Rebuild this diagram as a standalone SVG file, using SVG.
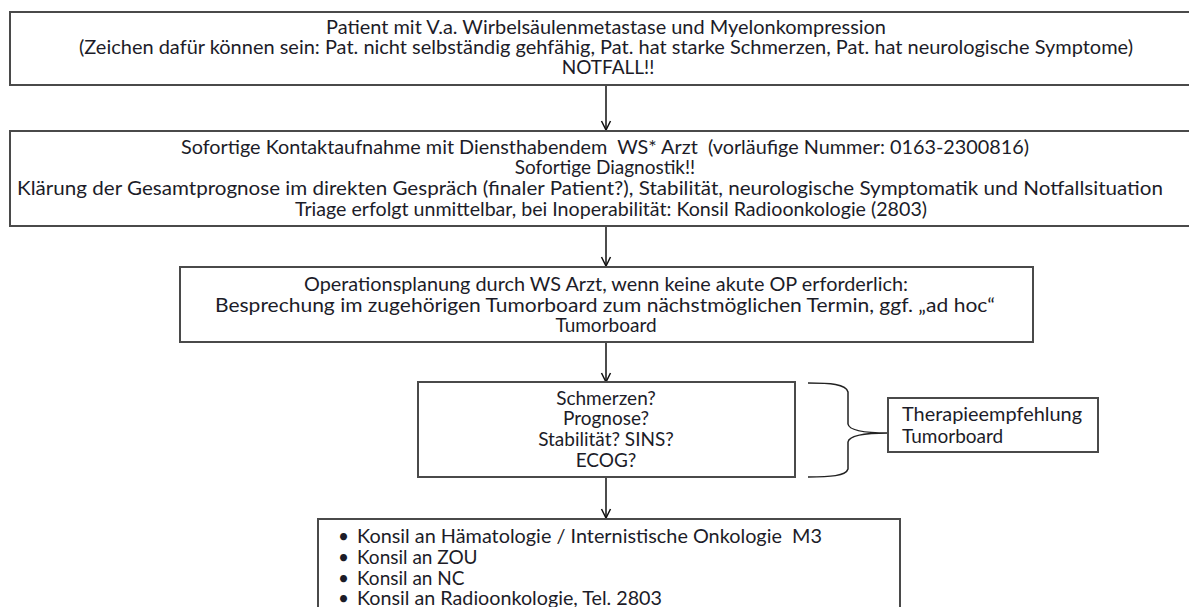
<svg xmlns="http://www.w3.org/2000/svg" width="1189" height="607" viewBox="0 0 1189 607">
  <style>
    .box { fill: #ffffff; stroke: #4a4a4a; stroke-width: 2; }
    .t { font-family: Lato, "Open Sans", "Liberation Sans", sans-serif; font-size: 19px; fill: #1c1c28; }
    .c { text-anchor: middle; }
    .link { fill: none; stroke: #111111; stroke-width: 1.5; }
    .brace { fill: none; stroke: #222222; stroke-width: 1.5; }
  </style>
  <defs>
    <!-- open V arrowhead, tip along +x so orient="auto" follows the line -->
    <marker id="vhead" viewBox="0 0 12 12" refX="11" refY="6" markerWidth="12" markerHeight="12" markerUnits="userSpaceOnUse" orient="auto">
      <path d="M2,1.5 L11,6 L2,10.5" fill="none" stroke="#111111" stroke-width="1.5"/>
    </marker>
  </defs>
  <rect width="1189" height="607" fill="#ffffff"/>

  <g id="connectors">
    <line class="link" x1="606" y1="86" x2="606" y2="130" marker-end="url(#vhead)"/>
    <line class="link" x1="606" y1="226" x2="606" y2="266" marker-end="url(#vhead)"/>
    <line class="link" x1="606" y1="342" x2="606" y2="382" marker-end="url(#vhead)"/>
    <line class="link" x1="606" y1="477" x2="606" y2="518" marker-end="url(#vhead)"/>
  </g>

  <g id="notfall">
    <rect class="box" x="10" y="12" width="1200" height="73"/>
    <text class="t c" x="606" y="34" textLength="560" lengthAdjust="spacingAndGlyphs">Patient mit V.a. Wirbelsäulenmetastase und Myelonkompression</text>
    <text class="t c" x="606" y="54" textLength="1054" lengthAdjust="spacingAndGlyphs">(Zeichen dafür können sein: Pat. nicht selbständig gehfähig, Pat. hat starke Schmerzen, Pat. hat neurologische Symptome)</text>
    <text class="t c" x="608" y="74">NOTFALL!!</text>
  </g>

  <g id="kontakt">
    <rect class="box" x="10" y="131" width="1200" height="95"/>
    <text class="t c" x="605" y="154" xml:space="preserve" textLength="848" lengthAdjust="spacingAndGlyphs">Sofortige Kontaktaufnahme mit Diensthabendem  WS* Arzt  (vorläufige Nummer: 0163-2300816)</text>
    <text class="t c" x="605" y="174">Sofortige Diagnostik!!</text>
    <text class="t c" x="590" y="195" textLength="1146" lengthAdjust="spacingAndGlyphs">Klärung der Gesamtprognose im direkten Gespräch (finaler Patient?), Stabilität, neurologische Symptomatik und Notfallsituation</text>
    <text class="t c" x="611" y="216" textLength="632" lengthAdjust="spacingAndGlyphs">Triage erfolgt unmittelbar, bei Inoperabilität: Konsil Radioonkologie (2803)</text>
  </g>

  <g id="op-planung">
    <rect class="box" x="180" y="267" width="853" height="75"/>
    <text class="t c" x="606" y="291" textLength="604" lengthAdjust="spacingAndGlyphs">Operationsplanung durch WS Arzt, wenn keine akute OP erforderlich:</text>
    <text class="t c" x="605" y="312" textLength="780" lengthAdjust="spacingAndGlyphs">Besprechung im zugehörigen Tumorboard zum nächstmöglichen Termin, ggf. „ad hoc“</text>
    <text class="t c" x="606" y="332">Tumorboard</text>
  </g>

  <g id="kriterien">
    <rect class="box" x="418" y="382" width="377" height="95"/>
    <text class="t c" x="606" y="405">Schmerzen?</text>
    <text class="t c" x="606" y="425">Prognose?</text>
    <text class="t c" x="606" y="446">Stabilität? SINS?</text>
    <text class="t c" x="606" y="467">ECOG?</text>
  </g>

  <g id="klammer">
    <path class="brace" d="M808,383 C830,383 846,384 848,392 L848,424 C849,430 862,433 888,433 C862,433 849,436 848,442 L848,469 C846,476 830,477 808,477"/>
  </g>

  <g id="therapieempfehlung">
    <rect class="box" x="888" y="398" width="210" height="54"/>
    <text class="t" x="902" y="421" textLength="180" lengthAdjust="spacingAndGlyphs">Therapieempfehlung</text>
    <text class="t" x="902" y="443">Tumorboard</text>
  </g>

  <g id="konsile">
    <rect class="box" x="318" y="519" width="582" height="100"/>
    <text class="t" x="338" y="543">•</text>
    <text class="t" x="357" y="543" xml:space="preserve" textLength="465" lengthAdjust="spacingAndGlyphs">Konsil an Hämatologie / Internistische Onkologie  M3</text>
    <text class="t" x="338" y="564">•</text>
    <text class="t" x="357" y="564">Konsil an ZOU</text>
    <text class="t" x="338" y="585">•</text>
    <text class="t" x="357" y="585">Konsil an NC</text>
    <text class="t" x="338" y="605">•</text>
    <text class="t" x="357" y="605" textLength="305" lengthAdjust="spacingAndGlyphs">Konsil an Radioonkologie, Tel. 2803</text>
  </g>
</svg>
